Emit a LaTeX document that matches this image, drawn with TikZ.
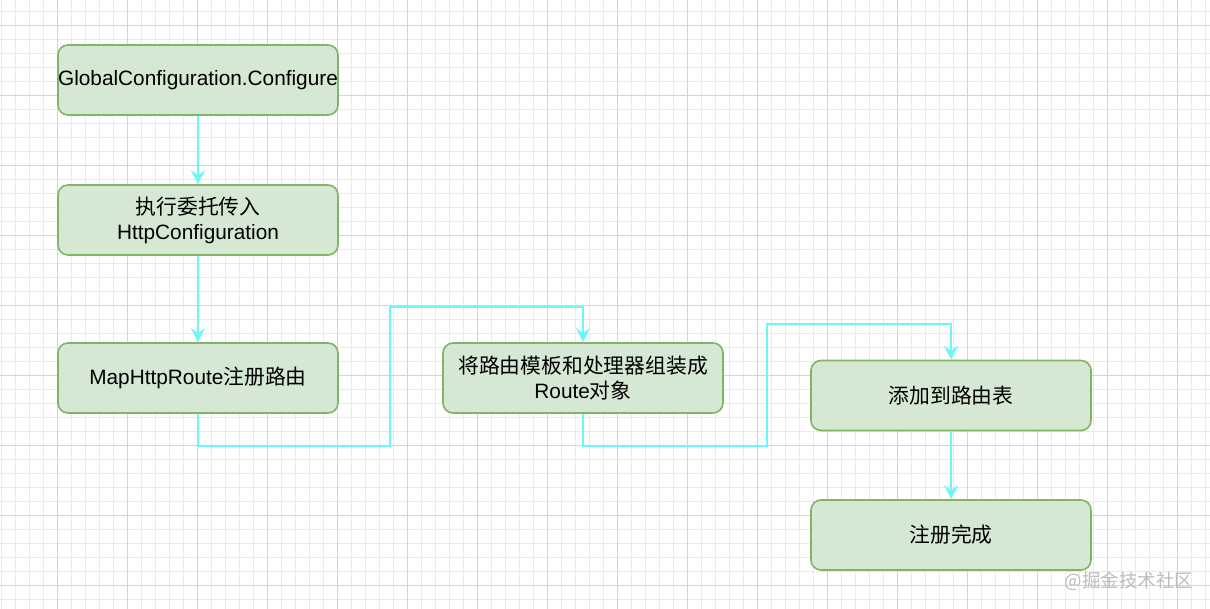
\documentclass[tikz,border=0pt]{standalone}
\usepackage{fontspec}
\setmainfont{Liberation Sans}
\newfontfamily\cjk{Noto Sans CJK SC}
\usetikzlibrary{arrows.meta}
\definecolor{boxfill}{HTML}{D5E8D4}
\definecolor{boxline}{HTML}{82B366}
\definecolor{conncol}{HTML}{6EF7F7}
\definecolor{gridminor}{HTML}{EAEAEA}
\definecolor{gridmajor}{HTML}{D4D4D4}
\definecolor{wmark}{HTML}{BDBDBD}
\tikzset{
  stepbox/.style={draw=boxline, fill=boxfill, line width=1.6pt, rounded corners=10pt,
    minimum width=280pt, minimum height=70pt, inner sep=0pt, align=center,
    font=\fontsize{20.8}{25}\selectfont},
  conn/.style={draw=conncol, line width=2pt, -{Stealth[length=14pt,width=14pt,inset=5pt]}},
  gminor/.style={draw=gridminor, line width=0.8pt},
  gmajor/.style={draw=gridmajor, line width=0.9pt}
}
\begin{document}
\begin{tikzpicture}[x=1pt,y=-1pt]
\useasboundingbox (0,0) rectangle (1210,609);
\fill[white] (0,0) rectangle (1210,609);
% grid
\foreach \i in {0,...,86} {
  \draw[gminor] ({1.7+14*\i},0) -- ({1.7+14*\i},609);
}
\foreach \i in {0,...,43} {
  \draw[gminor] (0,{11+14*\i}) -- (1210,{11+14*\i});
}
\foreach \i in {0,...,17} {
  \draw[gmajor] ({57.7+70*\i},0) -- ({57.7+70*\i},609);
}
\foreach \i in {0,...,8} {
  \draw[gmajor] (0,{25+70*\i}) -- (1210,{25+70*\i});
}
% nodes
\node[stepbox] (b1) at (198,80) {GlobalConfiguration.Configure};
\node[stepbox] (b2) at (198,220) {{\cjk 执行委托传入}\\HttpConfiguration};
\node[stepbox] (b3) at (198,378) {MapHttpRoute{\cjk 注册路由}};
\node[stepbox] (b4) at (583,378) {{\cjk 将路由模板和处理器组装成}\\Route{\cjk 对象}};
\node[stepbox] (b5) at (951,395.5) {{\cjk 添加到路由表}};
\node[stepbox] (b6) at (951,535) {{\cjk 注册完成}};
% connectors
\coordinate (c1) at (390,446);
\coordinate (c2) at (390,307);
\coordinate (c3) at (767,446);
\coordinate (c4) at (767,324);
\draw[conn] (b1) -- (b2);
\draw[conn] (b2) -- (b3);
\draw[conn] (b3.south) |- (c1) -- (c2) -| (b4.north);
\draw[conn] (b4.south) |- (c3) -- (c4) -| (b5.north);
\draw[conn] (b5) -- (b6);
% watermark
\node[text=wmark, font=\cjk\fontsize{18.5}{22}\selectfont, inner sep=0pt] (wm) at (1129,581) {@掘金技术社区};
\end{tikzpicture}
\end{document}
